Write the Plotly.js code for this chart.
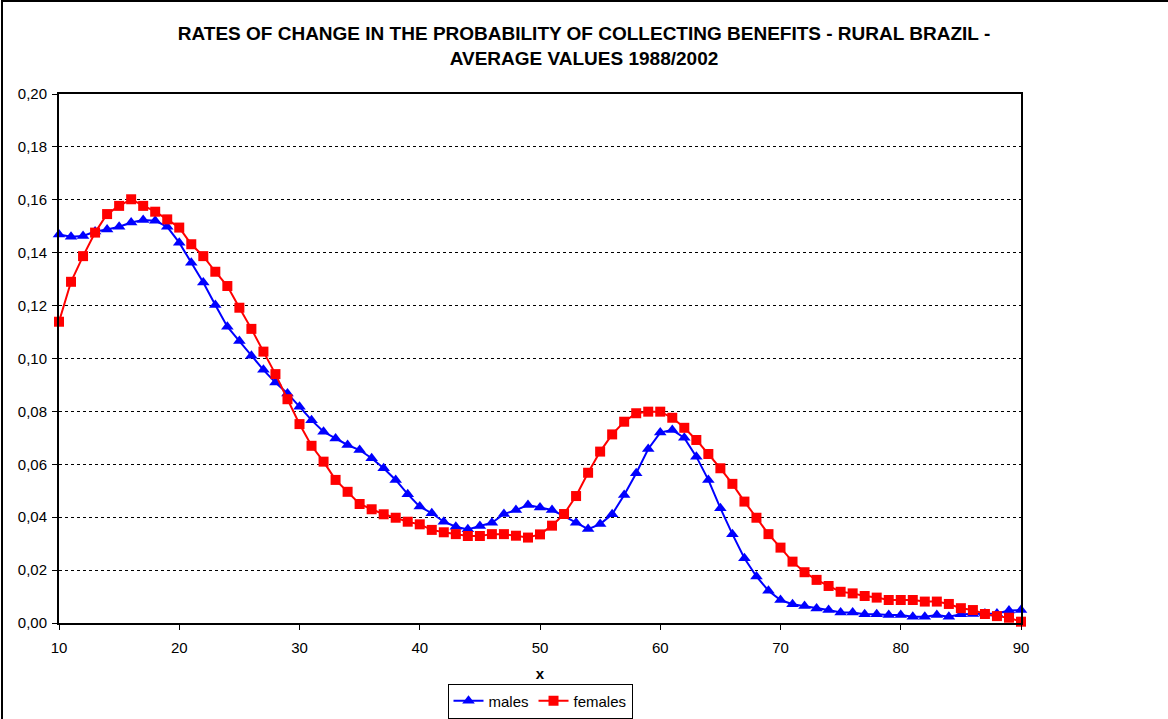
<!DOCTYPE html>
<html>
<head>
<meta charset="utf-8">
<script src="https://cdn.plot.ly/plotly-3.0.1.min.js"></script>
<style>
  html, body { margin: 0; padding: 0; background: #fff; }
  #wrap { position: relative; width: 1168px; height: 719px; overflow: hidden; }
  #chart { width: 1168px; height: 719px; }
  #frame { position: absolute; left: 1px; top: 0; width: 1200px; height: 800px;
           border-left: 2px solid #000; border-top: 2px solid #000; pointer-events: none; }
</style>
</head>
<body>
<div id="wrap"><div id="chart"></div><div id="frame"></div></div>
<script>
const ages = [10,11,12,13,14,15,16,17,18,19,20,21,22,23,24,25,26,27,28,29,30,31,32,33,34,35,36,37,38,39,40,41,42,43,44,45,46,47,48,49,50,51,52,53,54,55,56,57,58,59,60,61,62,63,64,65,66,67,68,69,70,71,72,73,74,75,76,77,78,79,80,81,82,83,84,85,86,87,88,89,90];

const males = [0.1469,0.1460,0.1463,0.1480,0.1488,0.1498,0.1514,0.1524,0.1521,0.1498,
  0.1438,0.1362,0.1287,0.1202,0.1120,0.1066,0.1010,0.0957,0.0909,0.0868,
  0.0818,0.0767,0.0723,0.0698,0.0673,0.0654,0.0623,0.0585,0.0541,0.0487,
  0.0440,0.0415,0.0383,0.0364,0.0354,0.0367,0.0379,0.0412,0.0427,0.0446,
  0.0437,0.0427,0.0404,0.0379,0.0355,0.0374,0.0411,0.0484,0.0566,0.0658,
  0.0720,0.0730,0.0700,0.0629,0.0541,0.0434,0.0336,0.0245,0.0176,0.0122,
  0.0087,0.0071,0.0064,0.0055,0.0049,0.0040,0.0040,0.0033,0.0033,0.0030,
  0.0030,0.0024,0.0024,0.0030,0.0024,0.0033,0.0034,0.0036,0.0036,0.0047,0.0049];

const females = [0.1139,0.1290,0.1387,0.1476,0.1546,0.1577,0.1602,0.1577,0.1555,0.1526,
  0.1495,0.1432,0.1387,0.1328,0.1274,0.1192,0.1112,0.1026,0.0941,0.0846,
  0.0752,0.0670,0.0610,0.0541,0.0496,0.0450,0.0430,0.0411,0.0398,0.0383,
  0.0373,0.0352,0.0343,0.0336,0.0329,0.0329,0.0336,0.0336,0.0330,0.0323,
  0.0335,0.0368,0.0412,0.0480,0.0568,0.0648,0.0713,0.0761,0.0793,0.0799,
  0.0799,0.0776,0.0738,0.0692,0.0639,0.0585,0.0526,0.0459,0.0398,0.0336,
  0.0285,0.0232,0.0192,0.0163,0.0140,0.0118,0.0112,0.0102,0.0096,0.0087,
  0.0087,0.0087,0.0081,0.0081,0.0072,0.0056,0.0049,0.0034,0.0026,0.0020,0.0005];

const seriesNames = ['males', 'females'];
const titleLine1 = 'RATES OF CHANGE IN THE PROBABILITY OF COLLECTING BENEFITS - RURAL BRAZIL -';
const titleLine2 = 'AVERAGE VALUES 1988/2002';
const yTickVals = [0,0.02,0.04,0.06,0.08,0.10,0.12,0.14,0.16,0.18,0.20];
const xTickVals = [10,20,30,40,50,60,70,80,90];

const FONT = 'Liberation Sans, Arial, sans-serif';

const traces = [
  { x: ages, y: males, name: seriesNames[0], type: 'scatter', mode: 'lines+markers',
    line: { color: '#0000FF', width: 2 },
    marker: { symbol: 'triangle-up', size: 11, color: '#0000FF' },
    cliponaxis: false },
  { x: ages, y: females, name: seriesNames[1], type: 'scatter', mode: 'lines+markers',
    line: { color: '#FF0000', width: 2 },
    marker: { symbol: 'square', size: 10, color: '#FF0000' },
    cliponaxis: false }
];

const layout = {
  width: 1168, height: 719,
  separators: ',.',
  paper_bgcolor: '#fff', plot_bgcolor: '#fff',
  font: { family: FONT, color: '#000', size: 14 },
  margin: { l: 59, r: 147, t: 94, b: 96, pad: 0, autoexpand: false },
  showlegend: true,
  title: {
    text: titleLine1 + '<br>' + titleLine2,
    font: { family: FONT, size: 19, weight: 'bold', color: '#000' },
    x: 0.5, xanchor: 'center', xref: 'container',
    y: 1 - 40 / 719, yref: 'container', yanchor: 'middle'
  },
  xaxis: {
    range: [10, 90], tickvals: xTickVals, ticks: 'outside', ticklen: 5, tickcolor: '#000', tickwidth: 1,
    showline: true, linecolor: '#000', linewidth: 2, mirror: true,
    showgrid: false, zeroline: false, automargin: false,
    ticklabelstandoff: 5,
    tickfont: { family: FONT, size: 15, color: '#000' },
    title: { text: 'x', font: { family: FONT, size: 15, weight: 'bold', color: '#000' }, standoff: 13 }
  },
  yaxis: {
    range: [0, 0.2], tickvals: yTickVals, tickformat: '.2f', ticks: 'outside', ticklen: 5, tickcolor: '#000', tickwidth: 1,
    showline: true, linecolor: '#000', linewidth: 2, mirror: true, automargin: false,
    showgrid: true, gridcolor: '#000', gridwidth: 1, griddash: 'dot', zeroline: false,
    ticklabelstandoff: 2,
    tickfont: { family: FONT, size: 15, color: '#000' }
  },
  legend: {
    orientation: 'h', x: 0.5, xanchor: 'center', xref: 'paper',
    y: (719 - 701) / 719, yanchor: 'middle', yref: 'container',
    bordercolor: '#000', borderwidth: 1, bgcolor: '#fff',
    font: { family: FONT, size: 15, color: '#000' },
    itemwidth: 30, tracegroupgap: 0
  }
};

Plotly.newPlot('chart', traces, layout, { displayModeBar: false, staticPlot: true });
</script>
</body>
</html>
